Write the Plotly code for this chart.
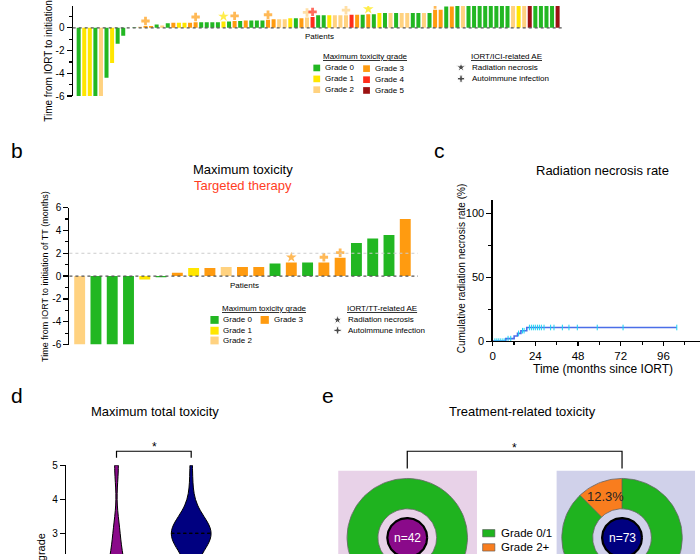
import numpy as np
import plotly.graph_objects as go

W, H = 700, 560
FONT = "Liberation Sans, Arial, sans-serif"

# ---------------- data ----------------
grade_labels = ["Grade 0", "Grade 1", "Grade 2", "Grade 3", "Grade 4", "Grade 5"]
grade_colors = ["#22b722", "#ffe600", "#ffd280", "#ff9b10", "#ff2d1b", "#9b1111"]

# panel a: IORT/ICI
a_values = [-6, -6, -6, -6, -6, -4.4, -3.1, -1.4, -0.7, 0.0,
            0.05, 0.1, 0.15, 0.15, 0.3, 0.2, 0.4, 0.45, 0.45, 0.45,
            0.45, 0.5, 0.5, 0.5, 0.5, 0.5, 0.55, 0.55, 0.6, 0.6,
            0.65, 0.65, 0.65, 0.65, 0.7, 0.75, 0.75, 0.75, 0.85, 0.85,
            0.85, 0.9, 0.95, 1.1, 1.1, 1.1, 1.1, 1.1, 1.1, 1.15,
            1.15, 1.15, 1.2, 1.2, 1.3, 1.3, 1.3, 1.3, 1.3, 1.3,
            1.3, 1.3, 1.3, 1.3, 1.6, 1.6, 1.87, 1.87, 2.1, 2.3,
            2.6, 2.9, 3.2, 3.6, 4.0, 4.5, 5.0, 5.6, 6.2, 6.9,
            7.5, 8.3, 9.0, 10.0, 11.2, 12.5, 14.0]
a_grades = [0, 1, 1, 0, 2, 0, 1, 0, 0, 0,
            0, 2, 3, 3, 0, 2, 0, 3, 1, 1,
            3, 3, 0, 0, 0, 0, 1, 0, 3, 0,
            3, 0, 0, 0, 3, 3, 2, 2, 1, 0,
            3, 2, 4, 0, 0, 1, 2, 2, 2, 4,
            3, 0, 3, 0, 1, 0, 2, 0, 2, 2,
            0, 0, 2, 0, 3, 3, 0, 3, 0, 2,
            0, 0, 0, 0, 0, 0, 0, 0, 2, 1,
            2, 5, 0, 0, 0, 0, 5]
a_marker_idx = [12, 21, 26, 28, 34, 41, 42, 48, 52, 64]
a_marker_sym = ["cross", "cross", "star", "cross", "cross", "cross", "cross", "cross", "star", "cross"]
a_marker_grade = [3, 3, 1, 3, 3, 2, 4, 2, 1, 3]
a_ticks = [-6, -4, -2, 0]
a_ticktext = ["-6", "-4", "-2", "0"]

# panel b: IORT/TT
b_values = [-6, -6, -6, -6, -0.3, -0.1, 0.3, 0.7, 0.7, 0.8, 0.8, 0.8, 1.1, 1.2, 1.2, 1.2, 1.6, 2.9, 3.3, 3.6, 5.0]
b_grades = [2, 0, 0, 0, 1, 0, 3, 1, 3, 2, 3, 3, 0, 3, 0, 3, 3, 0, 0, 0, 3]
b_marker_idx = [13, 15, 16]
b_marker_sym = ["star", "cross", "cross"]
b_marker_grade = [3, 3, 3]
b_ticks = [-6, -4, -2, 0, 2, 4, 6]
b_ticktext = ["-6", "-4", "-2", "0", "2", "4", "6"]

# panel c: cumulative radiation necrosis
km_event_times = [7.4, 12.1, 14.0, 15.9, 19.2]
km_cum_rate = [2.0, 4.1, 6.1, 8.2, 10.7]
km_last_followup = 103.5
km_censor_times = [1.3, 2.4, 3.5, 4.6, 5.8, 6.9, 8.7, 10.2, 14.6, 16.8, 17.7, 20.7, 21.8,
                   22.9, 24.0, 25.2, 26.3, 27.4, 28.9, 32.6, 34.5, 39.2, 42.9, 47.6, 58.8,
                   73.3, 103.5]
c_xticks = [0, 24, 48, 72, 96]
c_yticks = [0, 50, 100]

# panel d: maximum total toxicity (counts per grade)
d_grades = [0, 1, 2, 3, 4, 5]
d_counts_purple = [20, 10, 7, 3, 0, 2]
d_counts_navy = [12, 14, 4, 38, 3, 2]
d_ticks = [0, 1, 2, 3, 4, 5]

# panel e: treatment-related toxicity
e_n = [42, 73]
e_grade01_pct = [100.0, 87.7]
e_grade2_pct = [0.0, 12.3]
e_labels = ["Grade 0/1", "Grade 2+"]

# ---------------- styles ----------------
PURPLE = "#8a0a8a"
NAVY = "#000080"
E_GREEN = "#1fb31f"
E_ORANGE = "#f97d1e"
BOX_L = "#e8d2e8"
BOX_R = "#d0d1ea"


def px_x(a, b):
    return [a / W, b / W]


def px_y(top, bottom):
    return [1 - bottom / H, 1 - top / H]


fig = go.Figure()

# ---- panel a ----
fig.add_trace(go.Bar(x=list(range(len(a_values))), y=a_values,
                     marker=dict(color=[grade_colors[g] for g in a_grades], line=dict(width=0)),
                     width=0.72, xaxis="x", yaxis="y", hoverinfo="skip"))
fig.add_trace(go.Scatter(x=a_marker_idx, y=[a_values[i] + 0.45 for i in a_marker_idx], mode="markers",
                         marker=dict(symbol=a_marker_sym, size=[8 if s == "star" else 7 for s in a_marker_sym],
                                     color=[grade_colors[g] for g in a_marker_grade], line=dict(width=0)),
                         xaxis="x", yaxis="y", hoverinfo="skip"))

# ---- panel b ----
fig.add_trace(go.Bar(x=list(range(len(b_values))), y=b_values,
                     marker=dict(color=[grade_colors[g] for g in b_grades], line=dict(width=0)),
                     width=0.67, xaxis="x2", yaxis="y2", hoverinfo="skip"))
fig.add_trace(go.Scatter(x=b_marker_idx, y=[b_values[i] + 0.45 for i in b_marker_idx], mode="markers",
                         marker=dict(symbol=b_marker_sym, size=[8 if s == "star" else 7 for s in b_marker_sym],
                                     color=[grade_colors[g] for g in b_marker_grade], line=dict(width=0)),
                         xaxis="x2", yaxis="y2", hoverinfo="skip"))

# ---- panel c ----
step_t = np.array([0.0] + km_event_times)
step_y = np.array([0.0] + km_cum_rate)
fig.add_trace(go.Scatter(x=list(step_t) + [km_last_followup], y=list(step_y) + [km_cum_rate[-1]],
                         mode="lines", line=dict(shape="hv", color="#4a6ee8", width=1.6),
                         xaxis="x3", yaxis="y3", hoverinfo="skip"))
cens_y = step_y[np.searchsorted(step_t, np.array(km_censor_times), side="right") - 1]
fig.add_trace(go.Scatter(x=km_censor_times, y=cens_y, mode="markers",
                         marker=dict(symbol="line-ns-open", size=4, line=dict(color="black", width=1)),
                         xaxis="x3", yaxis="y3", hoverinfo="skip"))

# ---- panel d ----
BW = 0.5
VW = 0.533
groups = [(0, d_counts_purple, PURPLE), (1, d_counts_navy, NAVY)]
median_shapes = []
for pos, counts, col in groups:
    vals = np.repeat(d_grades, counts).astype(float)
    fig.add_trace(go.Violin(x=[pos] * len(vals), y=vals, width=VW, scalemode="width", spanmode="hard",
                            bandwidth=BW, fillcolor=col, line=dict(color="black", width=1),
                            points=False, box=dict(visible=False), meanline=dict(visible=False),
                            opacity=1, xaxis="x4", yaxis="y4", hoverinfo="skip"))
    grid = np.linspace(vals.min(), vals.max(), 400)
    dens = np.exp(-0.5 * ((grid[:, None] - vals[None, :]) / BW) ** 2).sum(axis=1)
    for q in (np.percentile(vals, 25), np.median(vals), np.percentile(vals, 75)):
        if 2.4 < q <= 5:
            dq = np.exp(-0.5 * ((q - vals) / BW) ** 2).sum()
            half = VW / 2 * dq / dens.max()
            median_shapes.append(dict(type="line", xref="x4", yref="y4", x0=pos - half, x1=pos + half,
                                      y0=q, y1=q, line=dict(color="black", width=1.2, dash="dot")))

# ---- overlay (pixel units) for panel e and decorations ----
def wedge(cx, cy, r_in, r_out, a0, a1, n=120):
    t = np.radians(np.linspace(a0, a1, n))
    xo = cx + r_out * np.cos(t)
    yo = cy - r_out * np.sin(t)
    xi = cx + r_in * np.cos(t[::-1])
    yi = cy - r_in * np.sin(t[::-1])
    return np.concatenate([xo, xi, xo[:1]]), np.concatenate([yo, yi, yo[:1]])


def circle(cx, cy, r, n=160):
    t = np.radians(np.linspace(0, 360, n))
    return cx + r * np.cos(t), cy - r * np.sin(t)


donut_cx = [406.0, 621.7]
DCY, R_OUT, R_IN, R_C = 543.3, 60.5, 29.5, 20.0
annotations = []
for k in range(2):
    cx = donut_cx[k]
    fracs = [e_grade2_pct[k], e_grade01_pct[k]]
    cols = [E_ORANGE, E_GREEN]
    start = 90.0
    bounds = []
    for f, col in zip(fracs, cols):
        if f <= 0:
            continue
        end = start + f / 100 * 360
        xs, ys = wedge(cx, DCY, R_IN, R_OUT, start, end)
        fig.add_trace(go.Scatter(x=xs, y=ys, mode="lines", fill="toself", fillcolor=col,
                                 line=dict(width=0, color=col), xaxis="x9", yaxis="y9", hoverinfo="skip"))
        if f < 100:
            bounds.append(start)
            if col == E_ORANGE:
                mid = np.radians((start + end) / 2)
                rm = (R_IN + R_OUT) / 2
                annotations.append(dict(text=f"{f:.1f}%", x=cx + rm * np.cos(mid), y=DCY - rm * np.sin(mid),
                                        xref="x9", yref="y9", showarrow=False,
                                        font=dict(size=13, color="#222", family=FONT)))
        start = end
    for b in bounds:
        t = np.radians(b)
        fig.add_trace(go.Scatter(x=[cx + R_IN * np.cos(t), cx + R_OUT * np.cos(t)],
                                 y=[DCY - R_IN * np.sin(t), DCY - R_OUT * np.sin(t)], mode="lines",
                                 line=dict(color="#555", width=0.7), xaxis="x9", yaxis="y9", hoverinfo="skip"))
    for r in (R_OUT, R_IN):
        xs, ys = circle(cx, DCY, r)
        fig.add_trace(go.Scatter(x=xs, y=ys, mode="lines", line=dict(color="#666", width=0.8),
                                 xaxis="x9", yaxis="y9", hoverinfo="skip"))
    xs, ys = circle(cx, DCY, R_C)
    fig.add_trace(go.Scatter(x=xs, y=ys, mode="lines", fill="toself", fillcolor=[PURPLE, NAVY][k],
                             line=dict(color="black", width=2.2), xaxis="x9", yaxis="y9", hoverinfo="skip"))
    annotations.append(dict(text=f"n={e_n[k]}", x=cx, y=DCY, xref="x9", yref="y9", showarrow=False,
                            font=dict(size=12, color="white", family=FONT)))

# legend glyphs (star / plus) for panels a and b
fig.add_trace(go.Scatter(x=[460, 460, 336, 336], y=[62.7, 74.3, 320.7, 331.5], mode="markers",
                         marker=dict(symbol=["star", "cross", "star", "cross"], size=[7, 6, 7, 6], color="black"),
                         xaxis="x9", yaxis="y9", hoverinfo="skip"))


def ann(text, x, y, size, color="black", xanchor="center", yanchor="middle", angle=0):
    return dict(text=text, x=x, y=y, xref="x9", yref="y9", showarrow=False, textangle=angle,
                font=dict(size=size, color=color, family=FONT), xanchor=xanchor, yanchor=yanchor,
                borderpad=0)


annotations += [
    # panel letters
    ann("b", 7, 148, 21, xanchor="left"),
    ann("c", 432, 148, 21, xanchor="left"),
    ann("d", 7, 398, 21, xanchor="left"),
    ann("e", 319, 398, 21, xanchor="left"),
    # panel a
    ann("2", 65.5, -0.9, 10, xanchor="right"),
    ann("Time from IORT to initiation of ICI (months)", 45.5, 119, 10, yanchor="bottom", angle=-90),
    ann("Patients", 318, 31, 8),
    ann("<u>Maximum toxicity grade</u>", 364.5, 52, 8),
    ann("<u>IORT/ICI-related AE</u>", 506, 52, 8),
    ann("Radiation necrosis", 470.5, 63, 8, xanchor="left"),
    ann("Autoimmune infection", 470.5, 74.5, 8, xanchor="left"),
    # panel b
    ann("Maximum toxicity", 241, 167.5, 13),
    ann("Targeted therapy", 241, 183.5, 13, color="#ff3d1f"),
    ann("Time from IORT to initiation of TT (months)", 42, 276, 9, angle=-90),
    ann("Patients", 243, 286, 8),
    ann("<u>Maximum toxicity grade</u>", 262.5, 309, 8),
    ann("<u>IORT/TT-related AE</u>", 381, 309, 8),
    ann("Radiation necrosis", 345, 320.7, 8, xanchor="left"),
    ann("Autoimmune infection", 345, 331.5, 8, xanchor="left"),
    # panel c
    ann("Radiation necrosis rate", 601.7, 168, 13),
    ann("Cumulative radiation necrosis rate (%)", 460, 268, 10, angle=-90),
    ann("Time (months since IORT)", 602.5, 371, 12),
    # panel d
    ann("Maximum total toxicity", 153, 414.5, 13),
    ann("*", 151.7, 451, 12),
    ann("Toxicity grade", 38.5, 538, 11, yanchor="top", angle=-90),
    # panel e
    ann("Treatment-related toxicity", 521.7, 414.5, 13),
    ann("*", 513.3, 451.5, 12),
    ann(e_labels[0], 499.5, 538.5, 11.5, xanchor="left"),
    ann(e_labels[1], 499.5, 553, 11.5, xanchor="left"),
]

# grade legend entries
legend_a = [(311.7, 63.3, 0), (311.7, 74.5, 1), (311.7, 85.5, 2), (361.7, 64, 3), (361.7, 75.3, 4), (361.7, 86.3, 5)]
legend_b = [(208.3, 320.8, 0), (208.3, 331.8, 1), (208.3, 341.8, 2), (258.7, 320.8, 3)]
shapes = []
for (x0, yc, g) in legend_a:
    shapes.append(dict(type="rect", xref="x9", yref="y9", x0=x0, x1=x0 + 6.8, y0=yc - 3.4, y1=yc + 3.4,
                       fillcolor=grade_colors[g], line=dict(width=0)))
    annotations.append(ann(grade_labels[g], x0 + 11, yc, 8, xanchor="left"))
for (x0, yc, g) in legend_b:
    shapes.append(dict(type="rect", xref="x9", yref="y9", x0=x0, x1=x0 + 8.3, y0=yc - 4, y1=yc + 4,
                       fillcolor=grade_colors[g], line=dict(width=0)))
    annotations.append(ann(grade_labels[g], x0 + 12, yc, 8, xanchor="left"))

# zero / reference lines
shapes += [
    dict(type="line", xref="x domain", yref="y", x0=0, x1=1, y0=0, y1=0,
         line=dict(color="#555", width=1.2, dash="dot")),
    dict(type="line", xref="x2 domain", yref="y2", x0=0, x1=1, y0=2, y1=2,
         line=dict(color="#cccccc", width=1, dash="dot")),
    dict(type="line", xref="x2 domain", yref="y2", x0=0, x1=1, y0=0, y1=0,
         line=dict(color="#555", width=1.2, dash="dot")),
    # brackets
    dict(type="path", xref="x9", yref="y9", path="M114,461.7 L114,455 L189,455 L189,461.7",
         line=dict(color="black", width=1.2)),
    dict(type="path", xref="x9", yref="y9", path="M406,472.7 L406,455 L621.7,455 L621.7,472.7",
         line=dict(color="black", width=1.2)),
    # panel e boxes
    dict(type="rect", xref="x9", yref="y9", x0=336.7, x1=476, y0=475, y1=561, fillcolor=BOX_L,
         line=dict(width=0), layer="below"),
    dict(type="rect", xref="x9", yref="y9", x0=556, x1=695, y0=475, y1=561, fillcolor=BOX_R,
         line=dict(width=0), layer="below"),
    # panel e legend
    dict(type="rect", xref="x9", yref="y9", x0=481.7, x1=494, y0=535, y1=542.5, fillcolor=E_GREEN,
         line=dict(color="#555", width=0.6)),
    dict(type="rect", xref="x9", yref="y9", x0=481.7, x1=494, y0=549.5, y1=557, fillcolor=E_ORANGE,
         line=dict(color="#555", width=0.6)),
]
shapes += median_shapes

# ---------------- axes ----------------
def yax(domain, rng, anchor, tickvals, ticktext, minor_vals, size=10):
    d = dict(domain=domain, range=rng, anchor=anchor, showline=True, linecolor="black", linewidth=1.2,
             ticks="outside", ticklen=5, tickwidth=1.2, tickcolor="black", tickmode="array",
             tickvals=tickvals, ticktext=ticktext, tickfont=dict(size=size, color="black", family=FONT),
             showgrid=False, zeroline=False, fixedrange=True)
    if minor_vals:
        d["minor"] = dict(tickmode="array", tickvals=minor_vals, ticks="outside", ticklen=3,
                          tickwidth=1.2, tickcolor="black", showgrid=False)
    return d


hidden = dict(visible=False, showgrid=False, zeroline=False, fixedrange=True)

a_pitch = (557 - 76) / (len(a_values) - 1)
a_r0 = -(76 - 70) / a_pitch
a_r1 = a_r0 + (564 - 70) / a_pitch
b_pitch = (404 - 77) / (len(b_values) - 1)
b_r0 = -(77 - 66.7) / b_pitch
b_r1 = b_r0 + (416.7 - 66.7) / b_pitch
c_pxm = (663.3 - 491.7) / 96
d_pitch = 75.0
d_r0 = -(114 - 63.3) / d_pitch
d_r1 = d_r0 + (245 - 63.3) / d_pitch
d_pxu = 34.9

fig.update_layout(
    width=W, height=H, autosize=False,
    margin=dict(l=0, r=0, t=0, b=0, pad=0),
    paper_bgcolor="white", plot_bgcolor="rgba(0,0,0,0)",
    showlegend=False,
    font=dict(family=FONT, color="black"),
    xaxis=dict(domain=px_x(70, 564), range=[a_r0, a_r1], anchor="y", **hidden),
    yaxis=yax(px_y(0, 92), [-6, 22.3 / 11.62], "x", a_ticks, a_ticktext, [-5, -3, -1, 1]),
    xaxis2=dict(domain=px_x(66.7, 416.7), range=[b_r0, b_r1], anchor="y2", **hidden),
    yaxis2=yax(px_y(206, 346), [-6, 6], "x2", b_ticks, b_ticktext, [-5, -3, -1, 1, 3, 5]),
    xaxis3=dict(domain=px_x(491.7, 700), range=[0, (700 - 491.7) / c_pxm], anchor="y3", showline=True,
                linecolor="black", linewidth=1.2, ticks="outside", ticklen=4, tickwidth=1.2, tickcolor="black",
                tickmode="array", tickvals=c_xticks, ticktext=[str(v) for v in c_xticks],
                tickfont=dict(size=11.5, color="black", family=FONT),
                minor=dict(tickmode="array", tickvals=[12, 36, 60, 84, 108], ticks="outside", ticklen=2.5,
                           tickwidth=1.2, tickcolor="black", showgrid=False),
                showgrid=False, zeroline=False, fixedrange=True),
    yaxis3=yax(px_y(198, 342.5), [0, (342.5 - 198) / 1.305], "x3", c_yticks, [str(v) for v in c_yticks],
               [25, 75], size=11),
    xaxis4=dict(domain=px_x(63.3, 245), range=[d_r0, d_r1], anchor="y4", **hidden),
    yaxis4=yax(px_y(469.3, 560), [3 - (560 - 539) / d_pxu, 5], "x4", d_ticks, [str(v) for v in d_ticks], None),
    xaxis9=dict(domain=[0, 1], range=[0, W], anchor="y9", **hidden),
    yaxis9=dict(domain=[0, 1], range=[H, 0], anchor="x9", **hidden),
    annotations=annotations,
    shapes=shapes,
)

fig.write_html("out.html", config={"displayModeBar": False, "staticPlot": True},
               post_script="document.body.style.margin='0';document.body.style.overflow='hidden';")
